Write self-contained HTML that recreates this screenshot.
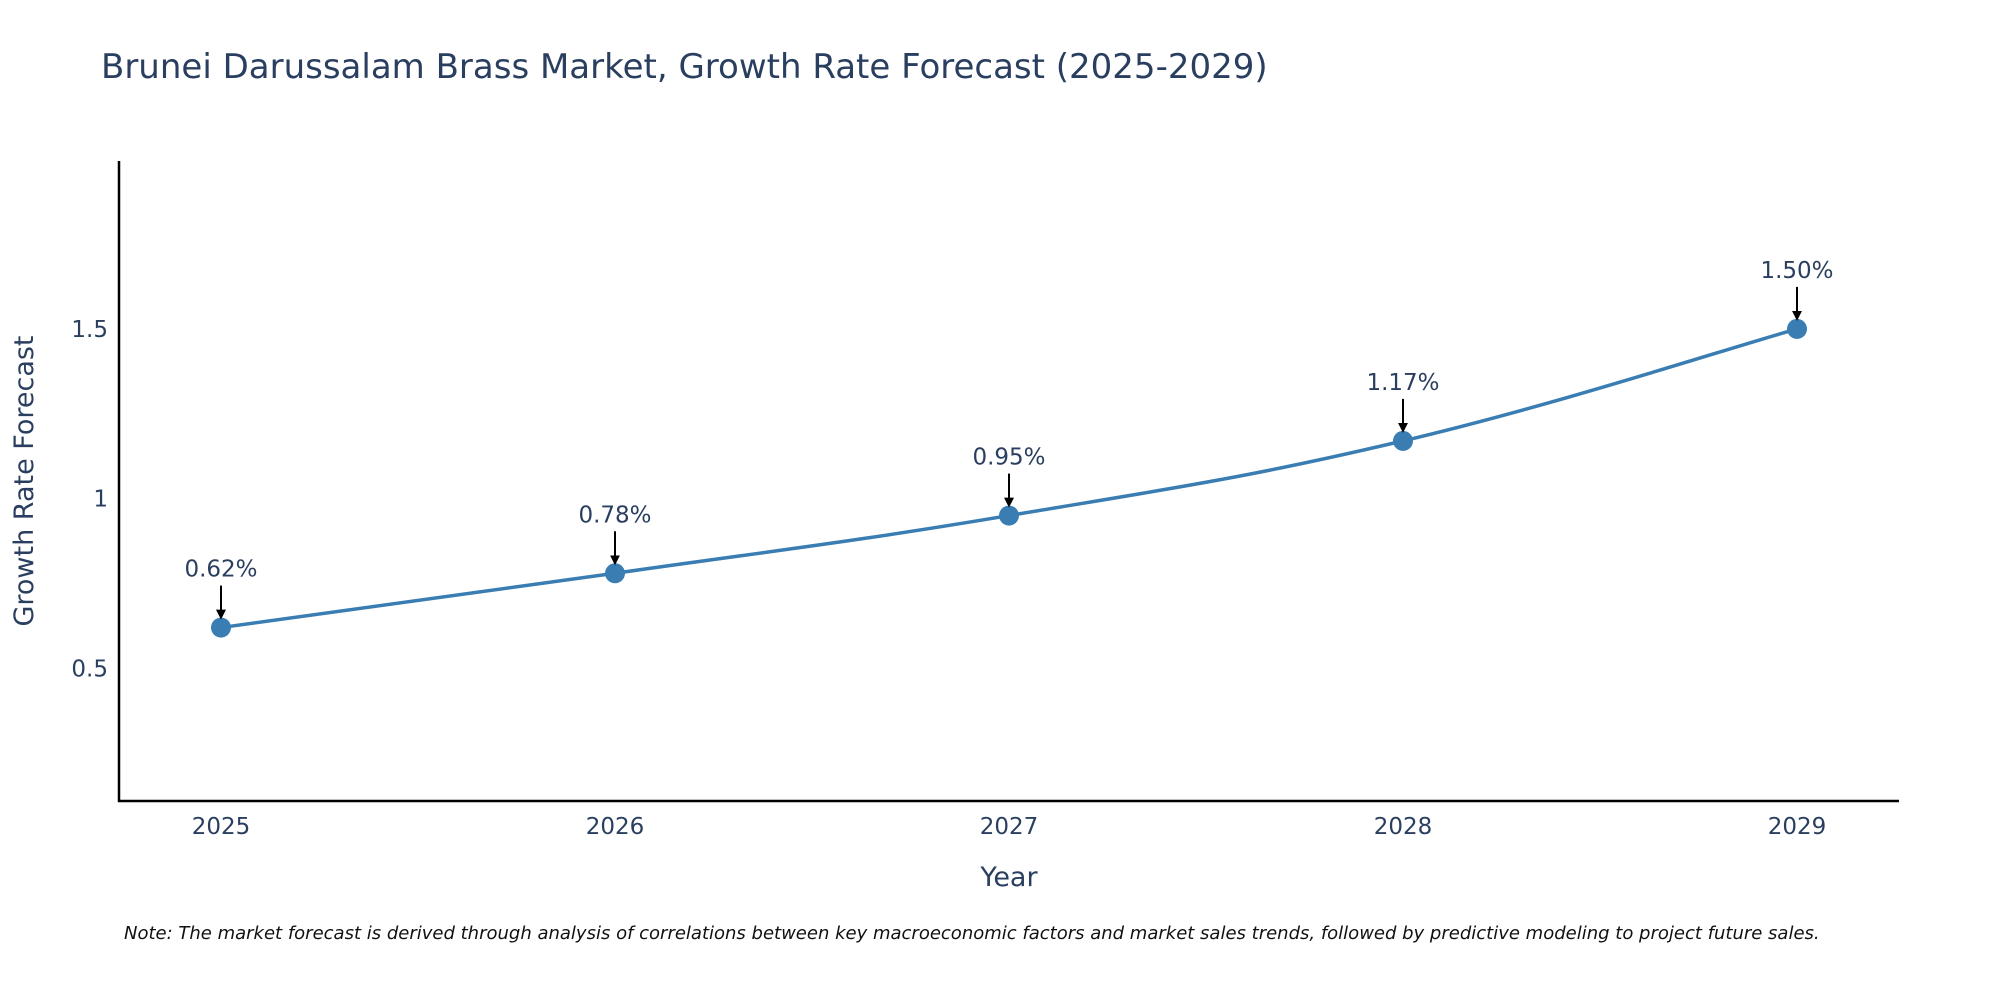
<!DOCTYPE html>
<html><head><meta charset="utf-8"><style>
body{margin:0;background:#fff;overflow:hidden;}
svg{display:block;font-family:"DejaVu Sans","Liberation Sans",sans-serif;}
</style></head><body>
<svg id="chart" width="2000" height="1000">
<text x="101" y="78" font-size="34" fill="#2a3f5f">Brunei Darussalam Brass Market, Growth Rate Forecast (2025-2029)</text>
<line x1="119" y1="161" x2="119" y2="802" stroke="#000" stroke-width="2.5"/>
<line x1="118" y1="801" x2="1899" y2="801" stroke="#000" stroke-width="2.5"/>
<g id="yticks"></g><g id="xticks"></g>
<path id="line" fill="none" stroke="#3a7db3" stroke-width="3.5"/>
<g id="points"></g><g id="annots"></g>
<text x="33" y="481" font-size="27" fill="#2a3f5f" text-anchor="middle" transform="rotate(-90 33 481)">Growth Rate Forecast</text>
<text x="1009" y="886" font-size="27" fill="#2a3f5f" text-anchor="middle">Year</text>
<text x="124" y="939" font-size="18" font-style="italic" fill="#111">Note: The market forecast is derived through analysis of correlations between key macroeconomic factors and market sales trends, followed by predictive modeling to project future sales.</text>
<defs><marker id="ah" markerWidth="5" markerHeight="5" refX="4" refY="2.5" orient="auto"><path d="M0,0 L5,2.5 L0,5 z" fill="#000"/></marker></defs>
</svg>
<script>
const years = ["2025","2026","2027","2028","2029"];
const values = [0.62, 0.78, 0.95, 1.17, 1.50];
const labels = ["0.62%","0.78%","0.95%","1.17%","1.50%"];
const yTicks = [0.5, 1, 1.5];
const yTickLabels = ["0.5","1","1.5"];
const NS="http://www.w3.org/2000/svg";
function xs(i){return 221 + i*(1797-221)/(years.length-1);}
function ys(v){return 838 - v*339.4;}
function mk(t,a,p){const e=document.createElementNS(NS,t);for(const k in a)e.setAttribute(k,a[k]);p.appendChild(e);return e;}
const yt=document.getElementById('yticks');
yTicks.forEach((v,i)=>{const t=mk('text',{x:108,y:ys(v)+8,'font-size':23,fill:'#2a3f5f','text-anchor':'end'},yt);t.textContent=yTickLabels[i];

});
const xt=document.getElementById('xticks');
years.forEach((y,i)=>{const t=mk('text',{x:xs(i),y:834,'font-size':23,fill:'#2a3f5f','text-anchor':'middle'},xt);t.textContent=y;

});
const P=values.map((v,i)=>[xs(i),ys(v)]);
let d=`M${P[0][0]},${P[0][1]}`;const s=0.2;
for(let i=0;i<P.length-1;i++){const p0=P[Math.max(0,i-1)],p1=P[i],p2=P[i+1],p3=P[Math.min(P.length-1,i+2)];
d+=` C${p1[0]+(p2[0]-p0[0])*s},${p1[1]+(p2[1]-p0[1])*s} ${p2[0]-(p3[0]-p1[0])*s},${p2[1]-(p3[1]-p1[1])*s} ${p2[0]},${p2[1]}`;}
document.getElementById('line').setAttribute('d',d);
const pg=document.getElementById('points'),ag=document.getElementById('annots');
P.forEach((p,i)=>{const c=mk('circle',{cx:p[0],cy:p[1],r:10,fill:'#3a7db3'},pg);


const l=mk('line',{x1:p[0],y1:p[1]-42,x2:p[0],y2:p[1]-10,stroke:'#000','stroke-width':2,'marker-end':'url(#ah)'},ag);


const t=mk('text',{x:p[0],y:p[1]-51,'font-size':23,fill:'#2a3f5f','text-anchor':'middle'},ag);t.textContent=labels[i];

});
</script>
</body></html>
